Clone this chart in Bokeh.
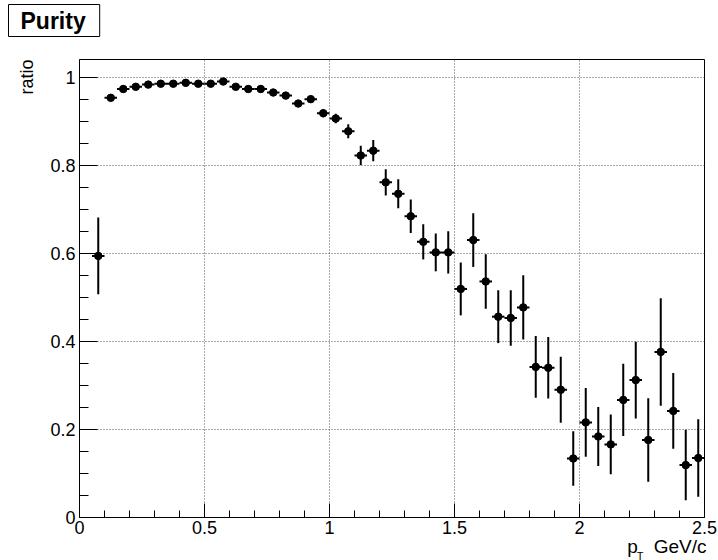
import numpy as np
from bokeh.plotting import figure
from bokeh.models import FixedTicker, Title, ColumnDataSource, Range1d
from bokeh.embed import file_html
from bokeh.resources import INLINE

# ---- data ----
pt_centers = [0.075, 0.125, 0.175, 0.225, 0.275, 0.325, 0.375, 0.425, 0.475, 0.525,
              0.575, 0.625, 0.675, 0.725, 0.775, 0.825, 0.875, 0.925, 0.975, 1.025,
              1.075, 1.125, 1.175, 1.225, 1.275, 1.325, 1.375, 1.425, 1.475, 1.525,
              1.575, 1.625, 1.675, 1.725, 1.775, 1.825, 1.875, 1.925, 1.975, 2.025,
              2.075, 2.125, 2.175, 2.225, 2.275, 2.325, 2.375, 2.425, 2.475]
purity = [0.594, 0.953, 0.973, 0.978, 0.983, 0.985, 0.985, 0.987, 0.985, 0.985,
          0.990, 0.978, 0.973, 0.973, 0.965, 0.958, 0.940, 0.950, 0.918, 0.906,
          0.877, 0.822, 0.833, 0.761, 0.735, 0.684, 0.626, 0.602, 0.602, 0.519,
          0.630, 0.536, 0.456, 0.453, 0.477, 0.342, 0.340, 0.290, 0.134, 0.216,
          0.184, 0.166, 0.267, 0.312, 0.176, 0.376, 0.242, 0.119, 0.135]
purity_err = [0.087, 0.004, 0.003, 0.003, 0.003, 0.003, 0.003, 0.003, 0.003, 0.003,
              0.003, 0.004, 0.004, 0.004, 0.005, 0.005, 0.006, 0.006, 0.009, 0.011,
              0.016, 0.022, 0.024, 0.030, 0.033, 0.038, 0.040, 0.043, 0.048, 0.060,
              0.061, 0.062, 0.060, 0.063, 0.073, 0.070, 0.070, 0.075, 0.062, 0.078,
              0.067, 0.068, 0.082, 0.087, 0.095, 0.122, 0.086, 0.080, 0.088]
bin_half_width = 0.025

x_tick_values = [0, 0.5, 1, 1.5, 2, 2.5]
x_tick_labels = ["0", "0.5", "1", "1.5", "2", "2.5"]
y_tick_values = [0, 0.2, 0.4, 0.6, 0.8, 1.0]
y_tick_labels = ["0", "0.2", "0.4", "0.6", "0.8", "1"]

title_text = "Purity"
y_title = "ratio"
x_title_main = "p"
x_title_sub = "T"
x_title_unit = "GeV/c"

# ---- build ----
x = np.array(pt_centers)
y = np.array(purity)
e = np.array(purity_err)
src = ColumnDataSource(dict(x=x, y=y, lo=y - e, hi=y + e,
                            xl=x - bin_half_width, xr=x + bin_half_width))

FONT = "Liberation Sans"
NB = "\u00a0"

p = figure(width=718, height=560, x_range=Range1d(0, 2.5), y_range=Range1d(0, 1.04),
           output_backend="svg", toolbar_location=None,
           min_border_left=79, min_border_right=14, min_border_top=59, min_border_bottom=43)
p.background_fill_color = "white"
p.border_fill_color = "white"
p.outline_line_color = "black"
p.outline_line_width = 1

# grid
p.xgrid.ticker = FixedTicker(ticks=x_tick_values)
p.ygrid.ticker = FixedTicker(ticks=y_tick_values)
for g in (p.xgrid, p.ygrid):
    g.grid_line_color = "#555555"
    g.grid_line_dash = "1 2"
    g.grid_line_width = 1

# axes
x_minor = [v for v in np.round(np.arange(0, 2.5001, 0.1), 3) if v not in x_tick_values]
y_minor = [v for v in np.round(np.arange(0, 1.0001, 0.05), 3) if v not in y_tick_values]
p.xaxis.ticker = FixedTicker(ticks=x_tick_values, minor_ticks=x_minor)
p.yaxis.ticker = FixedTicker(ticks=y_tick_values, minor_ticks=y_minor)
p.xaxis.major_label_overrides = {float(k): v for k, v in zip(x_tick_values, x_tick_labels)}
p.yaxis.major_label_overrides = {float(k): v for k, v in zip(y_tick_values, y_tick_labels)}

for ax in (p.xaxis[0], p.yaxis[0]):
    ax.axis_line_color = "black"
    ax.major_tick_line_color = "black"
    ax.minor_tick_line_color = "black"
    ax.major_tick_out = 0
    ax.minor_tick_out = 0
    ax.major_label_text_font = FONT
    ax.major_label_text_font_size = "18px"
    ax.major_label_text_color = "black"
p.xaxis.major_tick_in = 14
p.xaxis.minor_tick_in = 7
p.yaxis.major_tick_in = 18
p.yaxis.minor_tick_in = 9
p.xaxis.major_label_standoff = 3
p.yaxis.major_label_standoff = 4

# data: error bars + markers
p.segment(x0="x", y0="lo", x1="x", y1="hi", source=src, line_color="black", line_width=2)
p.segment(x0="xl", y0="y", x1="xr", y1="y", source=src, line_color="black", line_width=2)
p.scatter(x="x", y="y", source=src, marker="circle", size=7.5,
          fill_color="black", line_color="black")

# spacer between frame and the title box (added first -> nearest the frame)
p.add_layout(Title(text=NB, text_font=FONT, text_font_size="10px", standoff=10,
                   text_color="white"), "above")

# title box (outermost above)
p.title.text = title_text
p.title.align = "left"
p.title.offset = -71
p.title.standoff = 0
p.title.text_font = FONT
p.title.text_font_style = "bold"
p.title.text_font_size = "23px"
p.title.text_color = "black"
p.title.border_line_color = "black"
p.title.border_line_width = 1
p.title.background_fill_color = "white"
p.title.padding = dict(left=12, right=14, top=3, bottom=3)

# y title (left, at top end)
p.add_layout(Title(text=y_title, align="right", offset=0, standoff=21,
                   text_font=FONT, text_font_size="18px", text_font_style="normal",
                   text_color="black"), "left")

# x title (below, at right end), subscript as a second line
p.add_layout(Title(text=x_title_main + NB * 3 + x_title_unit, align="right", offset=-2,
                   standoff=-6, text_font=FONT, text_font_size="19px",
                   text_font_style="normal", text_color="black"), "below")
p.add_layout(Title(text=x_title_sub, align="right", offset=61, standoff=-16,
                   text_font=FONT, text_font_size="11px", text_font_style="normal",
                   text_color="black"), "below")

open("out.html", "w").write(file_html(p, INLINE))
